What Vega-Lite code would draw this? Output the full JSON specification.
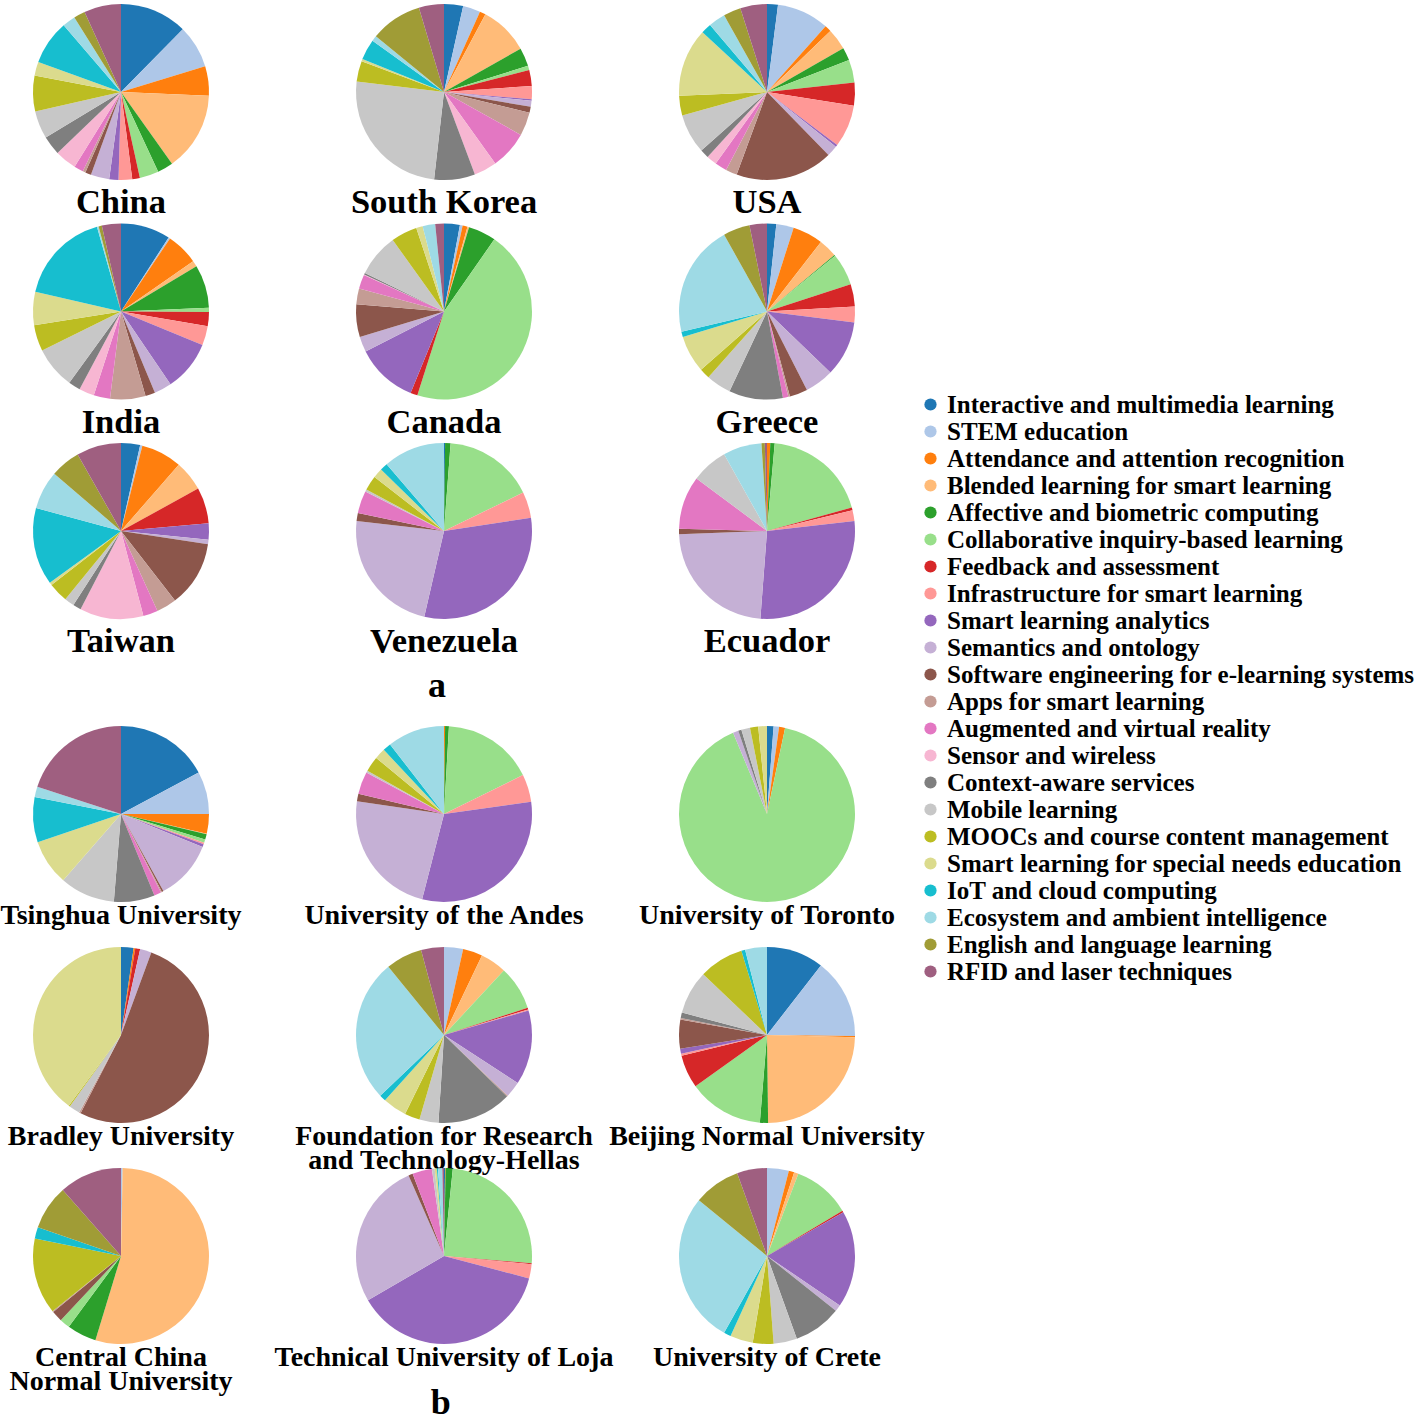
{
  "$schema": "https://vega.github.io/schema/vega-lite/v6.json",
  "padding": {"left": 0, "top": 4, "right": 0, "bottom": 0},
  "background": "white",
  "datasets": {
    "topics": [
      {"k": "k01", "topic": "Interactive and multimedia learning"},
      {"k": "k02", "topic": "STEM education"},
      {"k": "k03", "topic": "Attendance and attention recognition"},
      {"k": "k04", "topic": "Blended learning for smart learning"},
      {"k": "k05", "topic": "Affective and biometric computing"},
      {"k": "k06", "topic": "Collaborative inquiry-based learning"},
      {"k": "k07", "topic": "Feedback and assessment"},
      {"k": "k08", "topic": "Infrastructure for smart learning"},
      {"k": "k09", "topic": "Smart learning analytics"},
      {"k": "k10", "topic": "Semantics and ontology"},
      {"k": "k11", "topic": "Software engineering for e-learning systems"},
      {"k": "k12", "topic": "Apps for smart learning"},
      {"k": "k13", "topic": "Augmented and virtual reality"},
      {"k": "k14", "topic": "Sensor and wireless"},
      {"k": "k15", "topic": "Context-aware services"},
      {"k": "k16", "topic": "Mobile learning"},
      {"k": "k17", "topic": "MOOCs and course content management"},
      {"k": "k18", "topic": "Smart learning for special needs education"},
      {"k": "k19", "topic": "IoT and cloud computing"},
      {"k": "k20", "topic": "Ecosystem and ambient intelligence"},
      {"k": "k21", "topic": "English and language learning"},
      {"k": "k22", "topic": "RFID and laser techniques"}
    ],
    "pA": [
      {"p": "China", "k01": 12.4, "k02": 7.9, "k03": 5.4, "k04": 14.5, "k05": 2.9, "k06": 3.5, "k07": 1.4, "k08": 2.5, "k09": 1.7, "k10": 3.4, "k11": 1.1, "k12": 0.5, "k13": 1.7, "k14": 4, "k15": 3.5, "k16": 5.1, "k17": 6.6, "k18": 2.5, "k19": 8.2, "k20": 2.4, "k21": 2.1, "k22": 6.8},
      {"p": "South Korea", "k01": 3.5, "k02": 3.2, "k03": 1.1, "k04": 9, "k05": 3.4, "k06": 0.8, "k07": 2.9, "k08": 2.4, "k09": 0.3, "k10": 1.1, "k11": 1.1, "k12": 4.3, "k13": 7, "k14": 4.2, "k15": 7.5, "k16": 25.1, "k17": 3.8, "k18": 0.4, "k19": 3.8, "k20": 1, "k21": 9.5, "k22": 4.6},
      {"p": "USA", "k01": 2, "k02": 9.6, "k03": 1.2, "k04": 3.9, "k05": 2.4, "k06": 4.2, "k07": 4.2, "k08": 7.8, "k09": 0.4, "k10": 2, "k11": 17.9, "k12": 2.1, "k13": 2.2, "k14": 1.9, "k15": 1.6, "k16": 7.3, "k17": 3.6, "k18": 12.6, "k19": 1.9, "k20": 3.1, "k21": 3.2, "k22": 4.9},
      {"p": "India", "k01": 9.1, "k02": 0.3, "k03": 5.9, "k04": 1.1, "k05": 7.9, "k06": 0.8, "k07": 2.6, "k08": 3.5, "k09": 9.3, "k10": 3.2, "k11": 1.8, "k12": 6.5, "k13": 3, "k14": 2.8, "k15": 2.2, "k16": 7.7, "k17": 4.8, "k18": 6.1, "k19": 17, "k20": 0.3, "k21": 0.6, "k22": 3.5},
      {"p": "Canada", "k01": 2.9, "k02": 0.5, "k03": 0.9, "k04": 0.3, "k05": 5.1, "k06": 45.2, "k07": 1.3, "k08": 0, "k09": 11.3, "k10": 2.8, "k11": 6, "k12": 2.9, "k13": 2.6, "k14": 0.1, "k15": 0.3, "k16": 7.9, "k17": 4.8, "k18": 1.2, "k19": 0, "k20": 2.3, "k21": 0, "k22": 1.6},
      {"p": "Greece", "k01": 1.7, "k02": 3.2, "k03": 5.6, "k04": 3.4, "k05": 0.2, "k06": 5.9, "k07": 4.1, "k08": 2.9, "k09": 10.2, "k10": 5.3, "k11": 3.3, "k12": 0.3, "k13": 1, "k14": 0, "k15": 9.9, "k16": 4.6, "k17": 1.9, "k18": 6.8, "k19": 1, "k20": 20.6, "k21": 4.9, "k22": 3.2},
      {"p": "Taiwan", "k01": 3.5, "k02": 0.4, "k03": 7.5, "k04": 5.6, "k05": 0, "k06": 0, "k07": 6.6, "k08": 0, "k09": 3, "k10": 0.8, "k11": 12.1, "k12": 3.7, "k13": 2.7, "k14": 11.7, "k15": 1.5, "k16": 1.8, "k17": 3.6, "k18": 0.5, "k19": 14.2, "k20": 7.1, "k21": 5.5, "k22": 8.2},
      {"p": "Venezuela", "k01": 0.2, "k02": 0, "k03": 0, "k04": 0, "k05": 1, "k06": 16.6, "k07": 0, "k08": 4.8, "k09": 31, "k10": 23.2, "k11": 1.5, "k12": 0, "k13": 4.1, "k14": 0, "k15": 0, "k16": 0.4, "k17": 2.7, "k18": 1.8, "k19": 1.4, "k20": 11.3, "k21": 0, "k22": 0},
      {"p": "Ecuador", "k01": 0, "k02": 0, "k03": 0.6, "k04": 0, "k05": 0.8, "k06": 19.3, "k07": 0.5, "k08": 2, "k09": 28, "k10": 23.2, "k11": 1, "k12": 0, "k13": 9.8, "k14": 0, "k15": 0, "k16": 6.7, "k17": 0, "k18": 0, "k19": 0, "k20": 7.1, "k21": 0.6, "k22": 0.4}
    ],
    "pB": [
      {"p": "Tsinghua University", "k01": 17.2, "k02": 7.8, "k03": 3.6, "k04": 0.1, "k05": 1, "k06": 0.6, "k07": 0, "k08": 0.3, "k09": 0.5, "k10": 10.9, "k11": 0.3, "k12": 0.2, "k13": 1.3, "k14": 0, "k15": 7.5, "k16": 10.1, "k17": 0, "k18": 8.4, "k19": 8.3, "k20": 1.9, "k21": 0, "k22": 20},
      {"p": "University of the Andes", "k01": 0, "k02": 0, "k03": 0.2, "k04": 0, "k05": 0.7, "k06": 16.8, "k07": 0, "k08": 5.1, "k09": 31.2, "k10": 23.3, "k11": 1.4, "k12": 0, "k13": 4.1, "k14": 0, "k15": 0, "k16": 0.4, "k17": 2.8, "k18": 2, "k19": 1.5, "k20": 10.5, "k21": 0, "k22": 0},
      {"p": "University of Toronto", "k01": 1.2, "k02": 1, "k03": 1.1, "k04": 0, "k05": 0, "k06": 90.4, "k07": 0, "k08": 0, "k09": 0, "k10": 1, "k11": 0, "k12": 0, "k13": 0, "k14": 0, "k15": 0.6, "k16": 1.6, "k17": 1.5, "k18": 1.6, "k19": 0, "k20": 0, "k21": 0, "k22": 0},
      {"p": "Bradley University", "k01": 2.3, "k02": 0, "k03": 0.3, "k04": 0, "k05": 0, "k06": 0, "k07": 0.9, "k08": 0, "k09": 0, "k10": 2.1, "k11": 52, "k12": 0.3, "k13": 0, "k14": 0, "k15": 0, "k16": 2, "k17": 0.2, "k18": 39.9, "k19": 0, "k20": 0, "k21": 0, "k22": 0},
      {"p": "Foundation for Research and Technology-Hellas", "k01": 0, "k02": 3.5, "k03": 3.6, "k04": 4.8, "k05": 0, "k06": 8.1, "k07": 0.3, "k08": 0.2, "k09": 13.7, "k10": 2.9, "k11": 0, "k12": 0.2, "k13": 0, "k14": 0, "k15": 13.7, "k16": 3.5, "k17": 2.8, "k18": 4.4, "k19": 1.2, "k20": 26.2, "k21": 6.7, "k22": 4.2},
      {"p": "Beijing Normal University", "k01": 10.5, "k02": 14.7, "k03": 0.2, "k04": 24.4, "k05": 1.5, "k06": 13.8, "k07": 6.1, "k08": 0.4, "k09": 0.9, "k10": 0, "k11": 5.3, "k12": 0.3, "k13": 0, "k14": 0, "k15": 1, "k16": 8, "k17": 8.2, "k18": 0, "k19": 0.7, "k20": 4, "k21": 0, "k22": 0},
      {"p": "Central China Normal University", "k01": 0, "k02": 0.3, "k03": 0, "k04": 54.4, "k05": 5.4, "k06": 1.9, "k07": 0, "k08": 0, "k09": 0, "k10": 0, "k11": 2, "k12": 0.2, "k13": 0, "k14": 0, "k15": 0, "k16": 0, "k17": 14, "k18": 0, "k19": 2.1, "k20": 0, "k21": 8.2, "k22": 11.5},
      {"p": "Technical University of Loja", "k01": 0.2, "k02": 0, "k03": 0.1, "k04": 0, "k05": 1.3, "k06": 24.7, "k07": 0.2, "k08": 2.6, "k09": 37.5, "k10": 26.8, "k11": 0.8, "k12": 0, "k13": 3.6, "k14": 0, "k15": 0, "k16": 0.5, "k17": 0, "k18": 0.4, "k19": 0.2, "k20": 0.8, "k21": 0, "k22": 0.3},
      {"p": "University of Crete", "k01": 0, "k02": 4, "k03": 1, "k04": 0.8, "k05": 0, "k06": 10.6, "k07": 0.3, "k08": 0, "k09": 17.8, "k10": 1.2, "k11": 0, "k12": 0, "k13": 0, "k14": 0, "k15": 8.8, "k16": 4.3, "k17": 3.8, "k18": 4.2, "k19": 1.3, "k20": 27.8, "k21": 8.6, "k22": 5.5}
    ]
  },
  "vconcat": [
    {
      "data": {"name": "pA"},
      "transform": [
        {"fold": ["k01","k02","k03","k04","k05","k06","k07","k08","k09","k10","k11","k12","k13","k14","k15","k16","k17","k18","k19","k20","k21","k22"], "as": ["k", "v"]},
        {"lookup": "k", "from": {"data": {"name": "topics"}, "key": "k", "fields": ["topic"]}}
      ],
      "title": {"text": "a", "orient": "bottom", "anchor": "middle", "font": "Liberation Serif", "fontWeight": "bold", "fontSize": 36, "color": "black", "offset": 10, "dx": -7},
      "bounds": "flush",
      "facet": {
        "field": "p", "type": "nominal",
        "sort": ["China", "South Korea", "USA", "India", "Canada", "Greece", "Taiwan", "Venezuela", "Ecuador"],
        "header": {"title": null, "labelOrient": "bottom", "labelFont": "Liberation Serif", "labelFontWeight": "bold", "labelFontSize": 34.5, "labelColor": "black", "labelBaseline": "alphabetic", "labelPadding": 33, "labelLimit": 0}
      },
      "columns": 3,
      "spacing": {"row": 43.5, "column": 147},
      "spec": {
        "width": 176, "height": 176,
        "mark": {"type": "arc"},
        "encoding": {
          "theta": {"field": "v", "type": "quantitative", "stack": "normalize"},
          "order": {"field": "k", "sort": "ascending"},
          "color": {
            "field": "topic", "type": "nominal",
            "scale": {
              "domain": ["Interactive and multimedia learning","STEM education","Attendance and attention recognition","Blended learning for smart learning","Affective and biometric computing","Collaborative inquiry-based learning","Feedback and assessment","Infrastructure for smart learning","Smart learning analytics","Semantics and ontology","Software engineering for e-learning systems","Apps for smart learning","Augmented and virtual reality","Sensor and wireless","Context-aware services","Mobile learning","MOOCs and course content management","Smart learning for special needs education","IoT and cloud computing","Ecosystem and ambient intelligence","English and language learning","RFID and laser techniques"],
              "range": ["#1f77b4","#aec7e8","#ff7f0e","#ffbb78","#2ca02c","#98df8a","#d62728","#ff9896","#9467bd","#c5b0d5","#8c564b","#c49c94","#e377c2","#f7b6d2","#7f7f7f","#c7c7c7","#bcbd22","#dbdb8d","#17becf","#9edae5","#a09c36","#9f5f80"]
            },
            "legend": {"title": null, "orient": "none", "legendX": 885, "legendY": 388, "symbolType": "circle", "symbolSize": 150, "symbolStrokeWidth": 0, "labelFont": "Liberation Serif", "labelFontWeight": "bold", "labelFontSize": 25, "labelColor": "black", "labelLimit": 0, "rowPadding": 1, "labelOffset": 4, "padding": 0}
          }
        }
      }
    },
    {
      "data": {"name": "pB"},
      "transform": [
        {"fold": ["k01","k02","k03","k04","k05","k06","k07","k08","k09","k10","k11","k12","k13","k14","k15","k16","k17","k18","k19","k20","k21","k22"], "as": ["k", "v"]},
        {"lookup": "k", "from": {"data": {"name": "topics"}, "key": "k", "fields": ["topic"]}}
      ],
      "title": {"text": "b", "orient": "bottom", "anchor": "middle", "font": "Liberation Serif", "fontWeight": "bold", "fontSize": 36, "color": "black", "offset": -10, "dx": -22},
      "bounds": "flush",
      "facet": {
        "field": "p", "type": "nominal",
        "sort": ["Tsinghua University", "University of the Andes", "University of Toronto", "Bradley University", "Foundation for Research and Technology-Hellas", "Beijing Normal University", "Central China Normal University", "Technical University of Loja", "University of Crete"],
        "header": {"title": null, "labelOrient": "bottom", "labelFont": "Liberation Serif", "labelFontWeight": "bold", "labelFontSize": 28, "labelColor": "black", "labelBaseline": "middle", "labelPadding": 14, "labelLineHeight": 24, "labelLimit": 0,
          "labelExpr": "datum.value == 'Foundation for Research and Technology-Hellas' ? ['Foundation for Research', 'and Technology-Hellas'] : datum.value == 'Central China Normal University' ? ['Central China', 'Normal University'] : datum.value"}
      },
      "columns": 3,
      "spacing": {"row": 45, "column": 147},
      "spec": {
        "width": 176, "height": 176,
        "mark": {"type": "arc"},
        "encoding": {
          "theta": {"field": "v", "type": "quantitative", "stack": "normalize"},
          "order": {"field": "k", "sort": "ascending"},
          "color": {
            "field": "topic", "type": "nominal",
            "scale": {
              "domain": ["Interactive and multimedia learning","STEM education","Attendance and attention recognition","Blended learning for smart learning","Affective and biometric computing","Collaborative inquiry-based learning","Feedback and assessment","Infrastructure for smart learning","Smart learning analytics","Semantics and ontology","Software engineering for e-learning systems","Apps for smart learning","Augmented and virtual reality","Sensor and wireless","Context-aware services","Mobile learning","MOOCs and course content management","Smart learning for special needs education","IoT and cloud computing","Ecosystem and ambient intelligence","English and language learning","RFID and laser techniques"],
              "range": ["#1f77b4","#aec7e8","#ff7f0e","#ffbb78","#2ca02c","#98df8a","#d62728","#ff9896","#9467bd","#c5b0d5","#8c564b","#c49c94","#e377c2","#f7b6d2","#7f7f7f","#c7c7c7","#bcbd22","#dbdb8d","#17becf","#9edae5","#a09c36","#9f5f80"]
            },
            "legend": {"title": null, "orient": "none", "legendX": 885, "legendY": 388, "symbolType": "circle", "symbolSize": 150, "symbolStrokeWidth": 0, "labelFont": "Liberation Serif", "labelFontWeight": "bold", "labelFontSize": 25, "labelColor": "black", "labelLimit": 0, "rowPadding": 1, "labelOffset": 4, "padding": 0}
          }
        }
      }
    }
  ],
  "spacing": 22,
  "config": {
    "view": {"stroke": null},
    "arc": {"stroke": null}
  }
}
